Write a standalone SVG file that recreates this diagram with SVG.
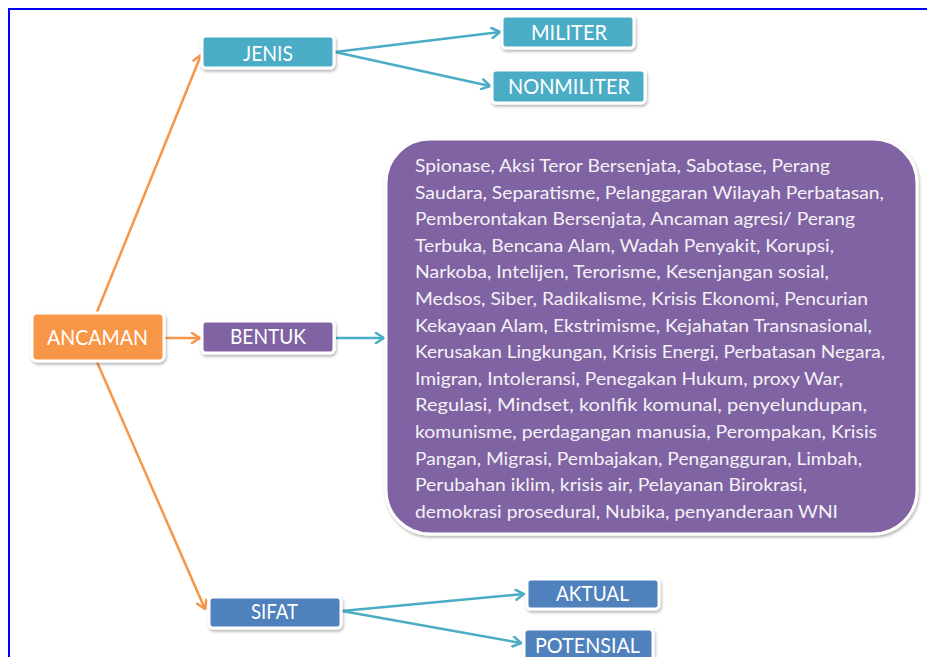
<svg xmlns="http://www.w3.org/2000/svg" width="927" height="657" viewBox="0 0 927 657">
  <style>
    .box { stroke: #FFFFFF; stroke-width: 3; filter: url(#sh); }
    .teal { fill: #4BACC6; }
    .orange { fill: #F79646; }
    .purple { fill: #8064A2; }
    .blue { fill: #4F81BD; }
    .lbl { font-family: Lato, "Open Sans", "Liberation Sans", sans-serif; font-size: 21px; fill: #FFFFFF; }
    .body { font-family: Lato, "Open Sans", "Liberation Sans", sans-serif; font-size: 18px; fill: #F4F2F7; }
    .c-or { fill: none; stroke: #F79646; stroke-width: 2.5; }
    .c-tl { fill: none; stroke: #4BACC6; stroke-width: 2.5; }
  </style>
  <defs>
    <filter id="sh" x="-10%" y="-20%" width="120%" height="150%">
      <feDropShadow dx="1" dy="2" stdDeviation="1.5" flood-color="#000000" flood-opacity="0.3"/>
    </filter>
    <marker id="aOr" viewBox="0 0 12 12" refX="10" refY="6" markerWidth="12" markerHeight="12" markerUnits="userSpaceOnUse" orient="auto">
      <path d="M2,1 L10,6 L2,11" fill="none" stroke="#F79646" stroke-width="2.5" stroke-linecap="round" stroke-linejoin="round"/>
    </marker>
    <marker id="aTl" viewBox="0 0 12 12" refX="10" refY="6" markerWidth="12" markerHeight="12" markerUnits="userSpaceOnUse" orient="auto">
      <path d="M2,1 L10,6 L2,11" fill="none" stroke="#4BACC6" stroke-width="2.5" stroke-linecap="round" stroke-linejoin="round"/>
    </marker>
  </defs>

  <rect x="0" y="0" width="927" height="657" fill="#FFFFFF"/>
  <rect x="9" y="9" width="940" height="680" fill="none" stroke="#0000FF" stroke-width="2"/>

  <g id="connectors">
    <line class="c-or" x1="97" y1="312" x2="201" y2="55" marker-end="url(#aOr)"/>
    <line class="c-or" x1="97" y1="362" x2="205" y2="609" marker-end="url(#aOr)"/>
    <line class="c-or" x1="160" y1="338" x2="200" y2="338" marker-end="url(#aOr)"/>
    <line class="c-tl" x1="336" y1="338" x2="384" y2="338" marker-end="url(#aTl)"/>
    <line class="c-tl" x1="335" y1="52" x2="500" y2="32" marker-end="url(#aTl)"/>
    <line class="c-tl" x1="335" y1="52" x2="490" y2="86" marker-end="url(#aTl)"/>
    <line class="c-tl" x1="342" y1="611" x2="524" y2="594" marker-end="url(#aTl)"/>
    <line class="c-tl" x1="342" y1="611" x2="521" y2="643" marker-end="url(#aTl)"/>
  </g>

  <g id="ancaman">
    <rect class="box orange" x="32" y="313" width="132" height="48" rx="5"/>
    <text class="lbl" x="47" y="345" font-size="23" textLength="101" lengthAdjust="spacingAndGlyphs">ANCAMAN</text>
  </g>
  <g id="jenis">
    <rect class="box teal" x="202" y="36" width="132" height="32" rx="4"/>
    <text class="lbl" x="243" y="61" textLength="50" lengthAdjust="spacingAndGlyphs">JENIS</text>
  </g>
  <g id="militer">
    <rect class="box teal" x="502" y="16" width="132" height="32" rx="4"/>
    <text class="lbl" x="531" y="40" textLength="76" lengthAdjust="spacingAndGlyphs">MILITER</text>
  </g>
  <g id="nonmiliter">
    <rect class="box teal" x="492" y="70" width="153" height="33" rx="4"/>
    <text class="lbl" x="508" y="94" textLength="122" lengthAdjust="spacingAndGlyphs">NONMILITER</text>
  </g>
  <g id="bentuk">
    <rect class="box purple" x="202" y="321" width="132" height="32" rx="4"/>
    <text class="lbl" x="230" y="344" textLength="76" lengthAdjust="spacingAndGlyphs">BENTUK</text>
  </g>
  <g id="bentuk-list">
    <rect class="box purple" x="386" y="139" width="531" height="395" rx="44"/>
    <text class="body" x="415" y="172" textLength="415" lengthAdjust="spacingAndGlyphs">Spionase, Aksi Teror Bersenjata, Sabotase, Perang</text>
    <text class="body" x="415" y="198.6" textLength="469" lengthAdjust="spacingAndGlyphs">Saudara, Separatisme, Pelanggaran Wilayah Perbatasan,</text>
    <text class="body" x="415" y="225.2" textLength="440" lengthAdjust="spacingAndGlyphs">Pemberontakan Bersenjata, Ancaman agresi/ Perang</text>
    <text class="body" x="415" y="251.8" textLength="419" lengthAdjust="spacingAndGlyphs">Terbuka, Bencana Alam, Wadah Penyakit, Korupsi,</text>
    <text class="body" x="415" y="278.4" textLength="414" lengthAdjust="spacingAndGlyphs">Narkoba, Intelijen, Terorisme, Kesenjangan sosial,</text>
    <text class="body" x="415" y="305" textLength="453" lengthAdjust="spacingAndGlyphs">Medsos, Siber, Radikalisme, Krisis Ekonomi, Pencurian</text>
    <text class="body" x="415" y="331.6" textLength="457" lengthAdjust="spacingAndGlyphs">Kekayaan Alam, Ekstrimisme, Kejahatan Transnasional,</text>
    <text class="body" x="415" y="358.2" textLength="470" lengthAdjust="spacingAndGlyphs">Kerusakan Lingkungan, Krisis Energi, Perbatasan Negara,</text>
    <text class="body" x="415" y="384.8" textLength="428" lengthAdjust="spacingAndGlyphs">Imigran, Intoleransi, Penegakan Hukum, proxy War,</text>
    <text class="body" x="415" y="411.4" textLength="452" lengthAdjust="spacingAndGlyphs">Regulasi, Mindset, konlfik komunal, penyelundupan,</text>
    <text class="body" x="415" y="438" textLength="462" lengthAdjust="spacingAndGlyphs">komunisme, perdagangan manusia, Perompakan, Krisis</text>
    <text class="body" x="415" y="464.6" textLength="447" lengthAdjust="spacingAndGlyphs">Pangan, Migrasi, Pembajakan, Pengangguran, Limbah,</text>
    <text class="body" x="415" y="491.2" textLength="392" lengthAdjust="spacingAndGlyphs">Perubahan iklim, krisis air, Pelayanan Birokrasi,</text>
    <text class="body" x="415" y="517.8" textLength="423" lengthAdjust="spacingAndGlyphs">demokrasi prosedural, Nubika, penyanderaan WNI</text>
  </g>
  <g id="sifat">
    <rect class="box blue" x="209" y="597" width="132" height="31" rx="4"/>
    <text class="lbl" x="251" y="619" textLength="47" lengthAdjust="spacingAndGlyphs">SIFAT</text>
  </g>
  <g id="aktual">
    <rect class="box blue" x="527" y="579" width="132" height="30" rx="4"/>
    <text class="lbl" x="556" y="601" textLength="73" lengthAdjust="spacingAndGlyphs">AKTUAL</text>
  </g>
  <g id="potensial">
    <rect class="box blue" x="524" y="629" width="129" height="40" rx="4"/>
    <text class="lbl" x="535" y="653" textLength="105" lengthAdjust="spacingAndGlyphs">POTENSIAL</text>
  </g>
</svg>
